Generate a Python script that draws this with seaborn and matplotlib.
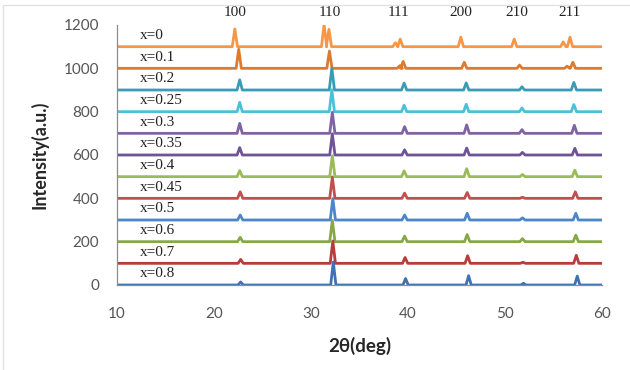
import matplotlib
matplotlib.use("Agg")
import matplotlib.pyplot as plt
from matplotlib.patches import Rectangle
import pandas as pd
import seaborn as sns

# series names, vertical offsets and colours (top to bottom)
labels = ["x=0", "x=0.1", "x=0.2", "x=0.25", "x=0.3", "x=0.35",
          "x=0.4", "x=0.45", "x=0.5", "x=0.6", "x=0.7", "x=0.8"]
offsets = [1100, 1000, 900, 800, 700, 600, 500, 400, 300, 200, 100, 0]
colors = ["#F79646", "#DE7A2E", "#3A9BB5", "#4BC0D8", "#8064A2", "#6E5396",
          "#9BBB59", "#C0504D", "#4A86C8", "#86A845", "#B83C38", "#3E72B4"]

# peak positions (2theta) and heights above each baseline
peak_pos = [
    [22.15, 31.35, 31.85, 38.7, 39.2, 45.45, 50.95, 56.0, 56.7],
    [22.55, 31.9, 39.15, 39.5, 45.8, 51.5, 56.4, 57.0],
    [22.65, 32.15, 39.6, 46.0, 51.75, 57.1],
    [22.65, 32.15, 39.6, 46.0, 51.75, 57.1],
    [22.65, 32.2, 39.65, 46.05, 51.75, 57.15],
    [22.65, 32.2, 39.65, 46.05, 51.8, 57.2],
    [22.65, 32.2, 39.6, 46.05, 51.8, 57.2],
    [22.7, 32.2, 39.65, 46.1, 51.8, 57.25],
    [22.7, 32.25, 39.65, 46.1, 51.8, 57.3],
    [22.7, 32.2, 39.65, 46.1, 51.8, 57.3],
    [22.75, 32.25, 39.7, 46.15, 51.85, 57.35],
    [22.75, 32.3, 39.75, 46.25, 51.9, 57.45],
]
peak_h = [
    [82, 103, 80, 18, 35, 44, 35, 22, 44],
    [88, 80, 12, 32, 28, 15, 10, 28],
    [47, 101, 32, 33, 15, 35],
    [43, 101, 30, 34, 17, 33],
    [46, 97, 31, 39, 17, 37],
    [34, 98, 24, 32, 12, 31],
    [28, 97, 27, 37, 10, 30],
    [30, 99, 24, 27, 5, 30],
    [23, 99, 23, 31, 10, 31],
    [20, 99, 26, 33, 14, 30],
    [18, 103, 27, 35, 5, 37],
    [14, 106, 30, 43, 8, 41],
]

hkl = ["100", "110", "111", "200", "210", "211"]
hkl_pos = [22.2, 31.9, 39.0, 45.4, 51.2, 56.6]

x_start, x_end = 10, 60
half_w = 0.27

rows = []
for lab, base, pos, hts in zip(labels, offsets, peak_pos, peak_h):
    pts = [(x_start, base)]
    for c, h in zip(pos, hts):
        pts += [(c - half_w, base), (c, base + h), (c + half_w, base)]
    pts.append((x_end, base))
    for i, (tt, inten) in enumerate(pts):
        rows.append({"series": lab, "order": i, "two_theta": tt, "intensity": inten})
df = pd.DataFrame(rows)

sns.set_style("white")
plt.rcParams["font.family"] = ["Lato", "DejaVu Sans"]

fig = plt.figure(figsize=(6.3, 3.7), dpi=100)
ax = fig.add_axes([117 / 630, 85 / 370, 485 / 630, 260 / 370])

sns.lineplot(data=df, x="two_theta", y="intensity", hue="series",
             palette=colors, hue_order=labels, sort=False, estimator=None,
             lw=2, legend=False, ax=ax)

ax.set_xlim(10, 60)
ax.set_ylim(0, 1200)
ax.set_xticks(range(10, 61, 10))
ax.set_yticks(range(0, 1201, 200))

for s in ["top", "right"]:
    ax.spines[s].set_visible(False)
for s in ["left", "bottom"]:
    ax.spines[s].set_color("#8c8c8c")
    ax.spines[s].set_linewidth(0.9)
ax.tick_params(axis="both", direction="out", length=4, width=0.9,
               color="#8c8c8c", labelsize=11, labelcolor="#555555")
ax.tick_params(axis="x", pad=12)
ax.tick_params(axis="y", pad=9)

ax.set_xlabel("2θ(deg)", fontsize=13.5, fontweight="bold", labelpad=11,
              family=["Lato", "DejaVu Sans"])
ax.set_ylabel("Intensity(a.u.)", fontsize=13, fontweight="bold", labelpad=11)

for lab, base in zip(labels, offsets):
    ax.text(12.35, base + 52, lab, family="Liberation Serif", fontsize=11,
            ha="left", va="center", color="#222222")

for name, p in zip(hkl, hkl_pos):
    ax.text(p, 1259, name, family="Liberation Serif", fontsize=11,
            ha="center", va="center", color="#222222", clip_on=False)

fig.add_artist(Rectangle((3 / 630, -0.1), 1.2, 1.1 - 5 / 370,
                         transform=fig.transFigure, fill=False,
                         edgecolor="#e2e2e2", lw=1))

fig.savefig("out.png", dpi=100)
